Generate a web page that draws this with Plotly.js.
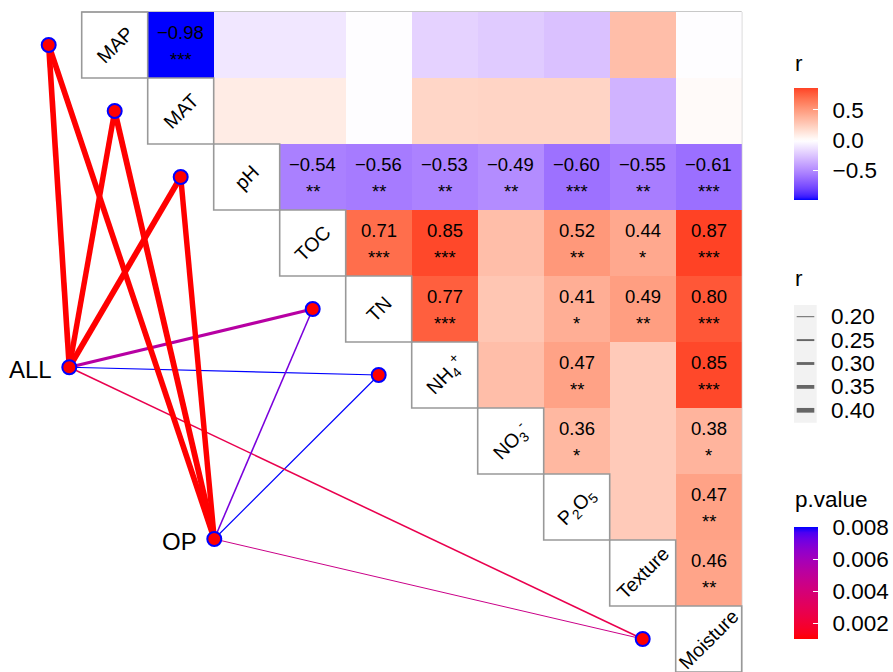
<!DOCTYPE html>
<html>
<head>
<meta charset="utf-8">
<script src="https://cdn.plot.ly/plotly-3.0.1.min.js"></script>
<style>
  html, body { margin: 0; padding: 0; background: #ffffff; }
  #chart { width: 893px; height: 672px; }
</style>
</head>
<body>
<div id="chart"></div>
<script>
// ---- variables (diagonal of the correlation triangle) ----
const varNames = ['MAP', 'MAT', 'pH', 'TOC', 'TN', 'NH4', 'NO3', 'P2O5', 'Texture', 'Moisture'];
const varLabels = ['MAP', 'MAT', 'pH', 'TOC', 'TN',
  'NH<sub>4</sub><sup>+</sup>', 'NO<sub>3</sub><sup>-</sup>', 'P<sub>2</sub>O<sub>5</sub>',
  'Texture', 'Moisture'];

// ---- Pearson r, upper triangle, one row per variable (columns to the right of the diagonal) ----
const rMAP      = [-0.98, -0.10, -0.10, -0.01, -0.19, -0.22, -0.26, 0.33, -0.01];
const rMAT      = [0.10, 0.10, -0.01, 0.21, 0.22, 0.22, -0.32, 0.02];
const rPH       = [-0.54, -0.56, -0.53, -0.49, -0.60, -0.55, -0.61];
const rTOC      = [0.71, 0.85, 0.33, 0.52, 0.44, 0.87];
const rTN       = [0.77, 0.29, 0.41, 0.49, 0.80];
const rNH4      = [0.33, 0.47, 0.27, 0.85];
const rNO3      = [0.36, 0.27, 0.38];
const rP2O5     = [0.27, 0.47];
const rTexture  = [0.46];

// ---- significance marks for the same cells ----
const sigMAP     = ['***', '', '', '', '', '', '', '', ''];
const sigMAT     = ['', '', '', '', '', '', '', ''];
const sigPH      = ['**', '**', '**', '**', '***', '**', '***'];
const sigTOC     = ['***', '***', '', '**', '*', '***'];
const sigTN      = ['***', '', '*', '**', '***'];
const sigNH4     = ['', '**', '', '***'];
const sigNO3     = ['*', '', '*'];
const sigP2O5    = ['', '**'];
const sigTexture = ['**'];

// ---- Mantel tests: community groups vs. environmental variables ----
const groups      = ['ALL', 'OP'];
const mantelVars  = ['MAP', 'MAT', 'pH', 'TN', 'NH4', 'Moisture'];
const mantelR_ALL = [0.45, 0.44, 0.46, 0.32, 0.21, 0.23];
const mantelP_ALL = [0.001, 0.001, 0.001, 0.0053, 0.008, 0.0027];
const mantelR_OP  = [0.45, 0.46, 0.44, 0.23, 0.21, 0.20];
const mantelP_OP  = [0.001, 0.001, 0.001, 0.0070, 0.008, 0.0045];

// legend breaks
const rBreaks = [-0.5, 0.0, 0.5];
const widthBreaks = [0.20, 0.25, 0.30, 0.35, 0.40];
const pBreaks = [0.002, 0.004, 0.006, 0.008];

// ---------------------------------------------------------------
const FONT = '"Liberation Sans", Arial, Helvetica, sans-serif';
const W = 893, H = 672;
const CELL = 66, X0 = 81.7, Y0 = 12;          // pixel size and origin of the grid
const xd = px => (px - X0) / CELL - 0.5;      // pixel -> data helpers for the axis ranges
const yd = py => (py - Y0) / CELL - 0.5;

// group anchor positions in grid units
const groupPos = { ALL: [-0.688, 4.883], OP: [1.509, 7.485] };

// ---- Lab colour interpolation (as ggplot gradients do) ----
function toLin(c) { c /= 255; return c <= 0.04045 ? c / 12.92 : Math.pow((c + 0.055) / 1.055, 2.4); }
function fromLin(c) { c = c <= 0.0031308 ? 12.92 * c : 1.055 * Math.pow(c, 1 / 2.4) - 0.055; return Math.round(Math.max(0, Math.min(1, c)) * 255); }
function hex2rgb(h) { return [parseInt(h.slice(1, 3), 16), parseInt(h.slice(3, 5), 16), parseInt(h.slice(5, 7), 16)]; }
function rgb2lab(rgb) {
  const [R, G, B] = rgb.map(toLin);
  const X = (0.4124564 * R + 0.3575761 * G + 0.1804375 * B) / 0.95047;
  const Y = (0.2126729 * R + 0.7151522 * G + 0.0721750 * B);
  const Z = (0.0193339 * R + 0.1191920 * G + 0.9503041 * B) / 1.08883;
  const f = t => t > 0.008856 ? Math.cbrt(t) : 7.787 * t + 16 / 116;
  const fx = f(X), fy = f(Y), fz = f(Z);
  return [116 * fy - 16, 500 * (fx - fy), 200 * (fy - fz)];
}
function lab2rgb(lab) {
  const [L, a, b] = lab;
  const fy = (L + 16) / 116, fx = fy + a / 500, fz = fy - b / 200;
  const inv = t => t * t * t > 0.008856 ? t * t * t : (t - 16 / 116) / 7.787;
  const X = inv(fx) * 0.95047, Y = inv(fy), Z = inv(fz) * 1.08883;
  const R = 3.2404542 * X - 1.5371385 * Y - 0.4985314 * Z;
  const G = -0.9692660 * X + 1.8760108 * Y + 0.0415560 * Z;
  const B = 0.0556434 * X - 0.2040259 * Y + 1.0572252 * Z;
  return 'rgb(' + fromLin(R) + ',' + fromLin(G) + ',' + fromLin(B) + ')';
}
function labRamp(hexes) {               // t in [0,1] across evenly spaced stops
  const labs = hexes.map(h => rgb2lab(hex2rgb(h)));
  return t => {
    t = Math.max(0, Math.min(1, t));
    const seg = Math.min(labs.length - 2, Math.floor(t * (labs.length - 1)));
    const u = t * (labs.length - 1) - seg;
    const A = labs[seg], B = labs[seg + 1];
    return lab2rgb([A[0] + (B[0] - A[0]) * u, A[1] + (B[1] - A[1]) * u, A[2] + (B[2] - A[2]) * u]);
  };
}

// ---- correlation matrix ----
const rRows = [rMAP, rMAT, rPH, rTOC, rTN, rNH4, rNO3, rP2O5, rTexture];
const sigRows = [sigMAP, sigMAT, sigPH, sigTOC, sigTN, sigNH4, sigNO3, sigP2O5, sigTexture];
const n = varNames.length;
const z = [];
const cellX = [], cellY = [], cellR = [];
for (let i = 0; i < n; i++) {
  const row = [];
  for (let j = 0; j < n; j++) {
    const v = j > i ? rRows[i][j - i - 1] : null;
    row.push(v);
    if (v !== null) { cellX.push(j); cellY.push(i); cellR.push(v); }
  }
  z.push(row);
}
const zmin = Math.min(...cellR), zmax = Math.max(...cellR);
const zAbs = Math.max(Math.abs(zmin), Math.abs(zmax));
const divRamp = labRamp(['#0000FF', '#FFFFFF', '#FF0000']);
const rColor = v => divRamp(0.5 + v / (2 * zAbs));
const fillScale = [];
for (let k = 0; k <= 40; k++) {
  const s = k / 40;
  fillScale.push([s, rColor(zmin + s * (zmax - zmin))]);
}

// ---- p-value colour and r width scales for the Mantel links ----
const allP = mantelP_ALL.concat(mantelP_OP);
const pmin = Math.min(...allP), pmax = Math.max(...allP);
const pRamp = labRamp(['#FF0000', '#0000FF']);
const pColor = p => pRamp((p - pmin) / (pmax - pmin));
const pScale = [];
for (let k = 0; k <= 20; k++) pScale.push([k / 20, pRamp(k / 20)]);
const linkWidth = r => 1 + (r - 0.2) * 18.5;

const fmt = v => (v < 0 ? '\u2212' : '') + Math.abs(v).toFixed(2);

// colour bar geometry; one bar carries the labels, a twin drawn on top adds white inner ticks
function bar(topPx, vals, fmtStr, withLabels) {
  return {
    xref: 'container', yref: 'container', x: 794 / W, xanchor: 'left',
    y: 1 - topPx / H, yanchor: 'top', len: 112, lenmode: 'pixels',
    thickness: 23.7, thicknessmode: 'pixels', outlinewidth: 0, xpad: 0, ypad: 0,
    tickvals: vals, tickformat: fmtStr,
    ticks: withLabels ? 'outside' : 'inside', ticklen: withLabels ? 10.5 : 5,
    tickcolor: withLabels ? 'rgba(0,0,0,0)' : '#ffffff', tickwidth: 1,
    showticklabels: withLabels,
    tickfont: { family: FONT, size: 22.5, color: '#000' }
  };
}

// ---- traces ----
const traces = [];
traces.push({
  type: 'heatmap', z: z,
  x: varNames.map((_, i) => i), y: varNames.map((_, i) => i),
  zmin: zmin, zmax: zmax, colorscale: fillScale, hoverinfo: 'skip',
  colorbar: bar(87.5, rBreaks, '.1f', true)
});

// links: thin ones first so the strong links sit on top
const links = [];
groups.forEach(g => {
  const rs = g === 'ALL' ? mantelR_ALL : mantelR_OP;
  const ps = g === 'ALL' ? mantelP_ALL : mantelP_OP;
  mantelVars.forEach((v, k) => links.push({ g, v, r: rs[k], p: ps[k] }));
});
links.sort((a, b) => a.r - b.r);
links.forEach(L => {
  const i = varNames.indexOf(L.v);
  const [gx, gy] = groupPos[L.g];
  traces.push({
    type: 'scatter', mode: 'lines', x: [gx, i - 1], y: [gy, i],
    line: { color: pColor(L.p), width: linkWidth(L.r) },
    hoverinfo: 'skip', showlegend: false
  });
});

// p.value colour bar carrier (invisible points at the variable nodes)
const linkX = links.map(L => varNames.indexOf(L.v) - 1), linkY = links.map(L => varNames.indexOf(L.v));
traces.push({
  type: 'scatter', mode: 'markers', x: linkX, y: linkY,
  marker: { size: 1, opacity: 0, color: links.map(L => L.p), cmin: pmin, cmax: pmax,
    colorscale: pScale, showscale: true, colorbar: bar(527, pBreaks, '.3f', true) },
  hoverinfo: 'skip', showlegend: false
});
// twins with the white tick marks
traces.push({
  type: 'scatter', mode: 'markers', x: cellX, y: cellY,
  marker: { size: 1, opacity: 0, color: cellR, cmin: zmin, cmax: zmax,
    colorscale: fillScale, showscale: true, colorbar: bar(87.5, rBreaks, '.1f', false) },
  hoverinfo: 'skip', showlegend: false
});
traces.push({
  type: 'scatter', mode: 'markers', x: linkX, y: linkY,
  marker: { size: 1, opacity: 0, color: links.map(L => L.p), cmin: pmin, cmax: pmax,
    colorscale: pScale, showscale: true, colorbar: bar(527, pBreaks, '.3f', false) },
  hoverinfo: 'skip', showlegend: false
});

// nodes
const nodeStyle = { size: 14, color: '#FF0000', line: { color: '#0000FF', width: 2 } };
traces.push({
  type: 'scatter', mode: 'markers',
  x: mantelVars.map(v => varNames.indexOf(v) - 1), y: mantelVars.map(v => varNames.indexOf(v)),
  marker: nodeStyle, hoverinfo: 'skip', showlegend: false
});
traces.push({
  type: 'scatter', mode: 'markers',
  x: groups.map(g => groupPos[g][0]), y: groups.map(g => groupPos[g][1]),
  marker: nodeStyle, hoverinfo: 'skip', showlegend: false
});

// ---- annotations ----
const ann = [];
for (let i = 0; i < n; i++) {
  ann.push({ x: i, y: i, text: varLabels[i], textangle: -45, showarrow: false,
    font: { family: FONT, size: 19.5, color: '#000' }, xanchor: 'center', yanchor: 'middle' });
  for (let j = i + 1; j < n; j++) {
    const s = sigRows[i][j - i - 1];
    if (!s) continue;
    ann.push({ x: j, y: i, text: fmt(rRows[i][j - i - 1]), showarrow: false, yshift: 13,
      font: { family: FONT, size: 18.5, color: '#000' } });
    ann.push({ x: j, y: i, text: s, showarrow: false, yshift: -14,
      font: { family: FONT, size: 18.5, color: '#000' } });
  }
}
groups.forEach(g => {
  ann.push({ x: groupPos[g][0], y: groupPos[g][1], text: g, showarrow: false,
    xanchor: 'right', xshift: -15, yshift: -2, font: { family: FONT, size: 24, color: '#000' } });
});

// legend titles and the width legend (pixel positions converted to paper)
const px = v => v / W, py = v => 1 - v / H;
const legendText = (x, y, t) => ann.push({ xref: 'paper', yref: 'paper', x: px(x), y: py(y), text: t,
  showarrow: false, xanchor: 'left', yanchor: 'middle', font: { family: FONT, size: 22.5, color: '#000' } });
legendText(793, 63, 'r');
legendText(793, 278, 'r');
legendText(793, 499, 'p.value');
widthBreaks.forEach((b, k) => legendText(829, 316.7 + k * 23.4, b.toFixed(2)));

const shapes = [];
// outer frame of the triangle
shapes.push({ type: 'line', x0: -0.5, x1: n - 0.5, y0: -0.5, y1: -0.5, layer: 'below',
  line: { color: '#c8c8c8', width: 2 } });
shapes.push({ type: 'line', x0: n - 0.5, x1: n - 0.5, y0: -0.5, y1: n - 0.5, layer: 'below',
  line: { color: '#d0d0d0', width: 1.5 } });
// diagonal label boxes
for (let i = 0; i < n; i++) {
  shapes.push({ type: 'rect', x0: i - 0.5, x1: i + 0.5, y0: i - 0.5, y1: i + 0.5, layer: 'above',
    line: { color: '#999999', width: 1.6 }, fillcolor: 'rgba(0,0,0,0)' });
}
// width legend keys
shapes.push({ type: 'rect', xref: 'paper', yref: 'paper', x0: px(794), x1: px(816.7), y0: py(305), y1: py(422.7),
  line: { width: 0 }, fillcolor: '#F2F2F2', layer: 'below' });
widthBreaks.forEach((b, k) => {
  const yy = py(316.7 + k * 23.4);
  shapes.push({ type: 'line', xref: 'paper', yref: 'paper', x0: px(796.7), x1: px(814.3), y0: yy, y1: yy,
    line: { color: '#666666', width: linkWidth(b) } });
});

const layout = {
  width: W, height: H,
  margin: { l: 0, r: 0, t: 0, b: 0, pad: 0, autoexpand: false },
  paper_bgcolor: '#ffffff', plot_bgcolor: 'rgba(0,0,0,0)',
  showlegend: false,
  xaxis: { range: [xd(0), xd(W)], visible: false, fixedrange: true },
  yaxis: { range: [yd(H), yd(0)], visible: false, fixedrange: true },
  annotations: ann, shapes: shapes,
  font: { family: FONT }
};

Plotly.newPlot('chart', traces, layout, { displayModeBar: false, staticPlot: true });
</script>
</body>
</html>
